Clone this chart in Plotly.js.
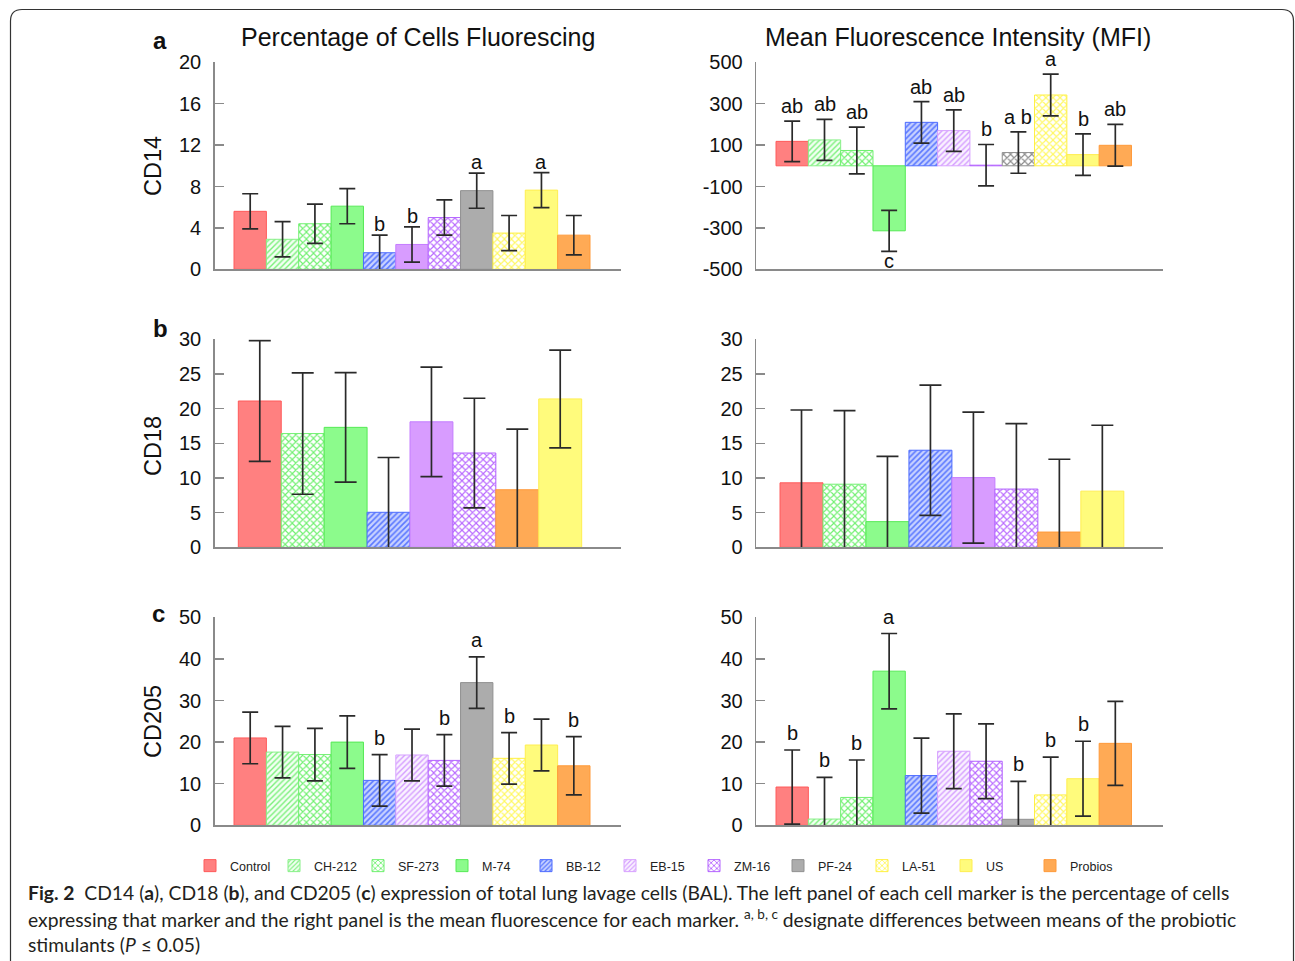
<!DOCTYPE html>
<html>
<head>
<meta charset="utf-8">
<script src="https://cdn.plot.ly/plotly-3.0.1.min.js"></script>
<style>html,body{margin:0;padding:0;background:#fff;}#chart{width:1295px;height:961px;}</style>
</head>
<body>
<div id="chart"></div>
<script>
// ---------------- DATA ----------------
const catsFull = ['Control','CH-212','SF-273','M-74','BB-12','EB-15','ZM-16','PF-24','LA-51','US','Probios'];
const catsCD18 = ['Control','SF-273','M-74','BB-12','EB-15','ZM-16','Probios','US'];

const cd14Pct    = [5.6, 2.9, 4.4, 6.1, 1.6, 2.4, 5.0, 7.6, 3.5, 7.65, 3.3];
const cd14PctErr = [1.7, 1.7, 1.9, 1.7, 1.7, 1.7, 1.7, 1.7, 1.7, 1.7, 1.9];
const cd14PctLbl = ['', '', '', '', 'b', 'b', '', 'a', '', 'a', ''];

const cd14Mfi    = [118, 125, 74, -314, 210, 170, 3, 64, 342, 54, 99];
const cd14MfiErr = [98, 99, 113, 99, 100, 100, 100, 100, 101, 100, 101];
const cd14MfiLbl = ['ab', 'ab', 'ab', 'c', 'ab', 'ab', 'b', 'a b', 'a', 'b', 'ab'];

const cd18Pct    = [21.1, 16.4, 17.3, 5.05, 18.1, 13.6, 8.3, 21.4];
const cd18PctErr = [8.7, 8.75, 7.9, 7.9, 7.9, 7.9, 8.75, 7.05];

const cd18Mfi    = [9.3, 9.1, 3.7, 14.0, 10.05, 8.4, 2.2, 8.1];
const cd18MfiErr = [10.5, 10.6, 9.4, 9.4, 9.45, 9.45, 10.5, 9.5];

const cd205Pct    = [21.0, 17.6, 17.0, 20.0, 10.8, 16.9, 15.6, 34.3, 16.1, 19.3, 14.3];
const cd205PctErr = [6.2, 6.2, 6.3, 6.3, 6.2, 6.2, 6.2, 6.2, 6.2, 6.2, 7.0];
const cd205PctLbl = ['', '', '', '', 'b', '', 'b', 'a', 'b', '', 'b'];

const cd205Mfi    = [9.2, 1.5, 6.7, 37.05, 11.95, 17.8, 15.4, 1.44, 7.3, 11.2, 19.7];
const cd205MfiErr = [8.9, 10.0, 9.0, 9.05, 9.0, 9.0, 9.0, 9.1, 9.1, 9.0, 10.1];
const cd205MfiLbl = ['b', 'b', 'b', 'a', '', '', '', 'b', 'b', 'b', ''];

const pctTicks14 = [0, 4, 8, 12, 16, 20];
const mfiTicks14 = [-500, -300, -100, 100, 300, 500];
const ticks18 = [0, 5, 10, 15, 20, 25, 30];
const ticks205 = [0, 10, 20, 30, 40, 50];

// ---------------- STYLES ----------------
const W = 1295, H = 961;
const fx = p => p / W;
const fy = p => 1 - p / H;
const FONT = 'Liberation Sans, Arial, Helvetica, sans-serif';
const CAPFONT = 'Lato, Roboto, sans-serif';

const styles = {
  'Control': {color:'#FF8080', line:'#FF5a5a', pattern:{shape:''}},
  'CH-212':  {color:'#C8FFC8', line:'#88F088', pattern:{shape:'/', fgcolor:'#7CF07C', bgcolor:'#F2FFF2', size:4, solidity:0.35, fillmode:'replace'}},
  'SF-273':  {color:'#B8FFB8', line:'#70F070', pattern:{shape:'x', fgcolor:'#70F070', bgcolor:'#FFFFFF', size:5, solidity:0.4, fillmode:'replace'}},
  'M-74':    {color:'#8CFB8C', line:'#55EA55', pattern:{shape:''}},
  'BB-12':   {color:'#98A8FF', line:'#4D6BFF', pattern:{shape:'/', fgcolor:'#5A78FF', bgcolor:'#C8D2FF', size:4, solidity:0.4, fillmode:'replace'}},
  'EB-15':   {color:'#E4C4FF', line:'#D7A2FF', pattern:{shape:'/', fgcolor:'#D49CFF', bgcolor:'#FAF2FF', size:4, solidity:0.35, fillmode:'replace'}},
  'ZM-16':   {color:'#D090FF', line:'#B464FF', pattern:{shape:'x', fgcolor:'#B868FF', bgcolor:'#FFFFFF', size:5, solidity:0.4, fillmode:'replace'}},
  'PF-24':   {color:'#ACACAC', line:'#909090', pattern:{shape:''}},
  'LA-51':   {color:'#FFFFB0', line:'#FFF040', pattern:{shape:'x', fgcolor:'#FFF860', bgcolor:'#FFFFFF', size:5, solidity:0.4, fillmode:'replace'}},
  'US':      {color:'#FFFB7C', line:'#FFEE50', pattern:{shape:''}},
  'Probios': {color:'#FFAA55', line:'#FF9a3a', pattern:{shape:''}}
};
const solidEB = {color:'#D89CFF', line:'#C47CFF', pattern:{shape:''}};
const checkPF = {color:'#C8C8C8', line:'#909090', pattern:{shape:'x', fgcolor:'#8c8c8c', bgcolor:'#FFFFFF', size:5, solidity:0.4, fillmode:'replace'}};

const traces = [];
const annotations = [];

function addPanel(cats, vals, errs, lbls, xa, ya, capW, overrides, showlegend, lblShift) {
  cats.forEach((c, i) => {
    const s = (overrides && overrides[c]) || styles[c];
    traces.push({
      type:'bar', x:[c], y:[vals[i]], width:1, name:c, legendgroup:c,
      showlegend: showlegend, xaxis:xa, yaxis:ya, hoverinfo:'skip',
      marker:{color:s.color, line:{color:s.line, width:1}, pattern:s.pattern},
      error_y:{type:'data', array:[errs[i]], visible:true, color:'#2a2a2a', thickness:1.7, width:capW}
    });
    if (lbls && lbls[i]) {
      const below = vals[i] < 0;
      annotations.push({
        xref:xa, yref:ya, x:c, y: below ? vals[i] - errs[i] : vals[i] + errs[i],
        yanchor: below ? 'top' : 'bottom', text:lbls[i], showarrow:false,
        font:{family:FONT, size:20, color:'#111'}, yshift: below ? 3 : lblShift
      });
    }
  });
}

addPanel(catsFull, cd205Pct, cd205PctErr, cd205PctLbl, 'x5', 'y5', 8, null, true, 4);
addPanel(catsFull, cd14Pct, cd14PctErr, cd14PctLbl, 'x', 'y', 8, {'EB-15':solidEB}, false, -2);
addPanel(catsFull, cd14Mfi, cd14MfiErr, cd14MfiLbl, 'x2', 'y2', 8, {'PF-24':checkPF}, false, 2);
addPanel(catsCD18, cd18Pct, cd18PctErr, null, 'x3', 'y3', 11, {'EB-15':solidEB}, false, 0);
addPanel(catsCD18, cd18Mfi, cd18MfiErr, null, 'x4', 'y4', 11, {'EB-15':solidEB}, false, 0);
addPanel(catsFull, cd205Mfi, cd205MfiErr, cd205MfiLbl, 'x6', 'y6', 8, null, false, 4);

const AXC = '#8a8a8a';
function xAxis(dom, anchor, cats, range) {
  return {domain:dom, anchor:anchor, type:'category', categoryorder:'array', categoryarray:cats,
    range:range, showline:true, linecolor:AXC, linewidth:1.3, showticklabels:false, ticks:'',
    showgrid:false, zeroline:false, fixedrange:true};
}
function yAxis(dom, anchor, range, ticks) {
  return {domain:dom, anchor:anchor, range:range, tickvals:ticks, ticktext:ticks.map(String),
    showline:true, linecolor:AXC, linewidth:1.3, ticks:'inside', ticklen:9, tickcolor:AXC, tickwidth:1.3,
    showgrid:false, zeroline:false, ticklabelstandoff:8,
    tickfont:{family:FONT, size:20, color:'#111'}, fixedrange:true};
}

const xL = [fx(214.5), fx(621)], xR = [fx(756), fx(1162.5)];
const yT = [fy(269.3), fy(62.3)], yM = [fy(547.3), fy(339.3)], yB = [fy(825.3), fy(617.3)];

const layout = {
  width:W, height:H, margin:{l:0, r:0, t:0, b:0}, paper_bgcolor:'#fff', plot_bgcolor:'rgba(0,0,0,0)',
  barmode:'overlay', bargap:0, showlegend:true,
  font:{family:FONT, color:'#111'},
  xaxis:  xAxis(xL, 'y',  catsFull, [-1.103, 11.458]),
  yaxis:  yAxis(yT, 'x',  [0, 20], pctTicks14),
  xaxis2: xAxis(xR, 'y2', catsFull, [-1.12, 11.46]),
  yaxis2: yAxis(yT, 'x2', [-500, 500], mfiTicks14),
  xaxis3: xAxis(xL, 'y3', catsCD18, [-1.055, 8.416]),
  yaxis3: yAxis(yM, 'x3', [0, 30], ticks18),
  xaxis4: xAxis(xR, 'y4', catsCD18, [-1.059, 8.4]),
  yaxis4: yAxis(yM, 'x4', [0, 30], ticks18),
  xaxis5: xAxis(xL, 'y5', catsFull, [-1.103, 11.458]),
  yaxis5: yAxis(yB, 'x5', [0, 50], ticks205),
  xaxis6: xAxis(xR, 'y6', catsFull, [-1.12, 11.46]),
  yaxis6: yAxis(yB, 'x6', [0, 50], ticks205),
  legend:{orientation:'h', x:fx(190), y:fy(851), xanchor:'left', yanchor:'top',
    entrywidth:39, entrywidthmode:'pixels', itemwidth:30, traceorder:'normal',
    font:{family:FONT, size:12.5, color:'#222'}, bgcolor:'rgba(0,0,0,0)', borderwidth:0,
    itemclick:false, itemdoubleclick:false},
  shapes:[{type:'path', xref:'paper', yref:'paper',
    path:`M ${fx(10.5)},${fy(961)} L ${fx(10.5)},${fy(21)} Q ${fx(10.5)},${fy(9.5)} ${fx(22)},${fy(9.5)} L ${fx(1282)},${fy(9.5)} Q ${fx(1293.5)},${fy(9.5)} ${fx(1293.5)},${fy(21)} L ${fx(1293.5)},${fy(961)}`,
    line:{color:'#333', width:1.2}}],
  annotations: annotations.concat([
    {xref:'paper', yref:'paper', x:fx(418), y:fy(37), xanchor:'center', yanchor:'middle', showarrow:false,
     text:'Percentage of Cells Fluorescing', font:{family:FONT, size:25, color:'#111'}},
    {xref:'paper', yref:'paper', x:fx(958), y:fy(37), xanchor:'center', yanchor:'middle', showarrow:false,
     text:'Mean Fluorescence Intensity (MFI)', font:{family:FONT, size:25, color:'#111'}},
    {xref:'paper', yref:'paper', x:fx(160), y:fy(41), xanchor:'center', yanchor:'middle', showarrow:false,
     text:'<b>a</b>', font:{family:FONT, size:24, color:'#111'}},
    {xref:'paper', yref:'paper', x:fx(160), y:fy(328), xanchor:'center', yanchor:'middle', showarrow:false,
     text:'<b>b</b>', font:{family:FONT, size:24, color:'#111'}},
    {xref:'paper', yref:'paper', x:fx(158), y:fy(613), xanchor:'center', yanchor:'middle', showarrow:false,
     text:'<b>c</b>', font:{family:FONT, size:24, color:'#111'}},
    {xref:'paper', yref:'paper', x:fx(153), y:fy(166), xanchor:'center', yanchor:'middle', showarrow:false,
     textangle:-90, text:'CD14', font:{family:FONT, size:23.5, color:'#111'}},
    {xref:'paper', yref:'paper', x:fx(153), y:fy(446), xanchor:'center', yanchor:'middle', showarrow:false,
     textangle:-90, text:'CD18', font:{family:FONT, size:23.5, color:'#111'}},
    {xref:'paper', yref:'paper', x:fx(153), y:fy(722), xanchor:'center', yanchor:'middle', showarrow:false,
     textangle:-90, text:'CD205', font:{family:FONT, size:23.5, color:'#111'}},
    {xref:'paper', yref:'paper', x:fx(26), y:fy(892.5), xanchor:'left', yanchor:'middle', showarrow:false, align:'left',
     text:'<b>Fig. 2</b>  CD14 (<b>a</b>), CD18 (<b>b</b>), and CD205 (<b>c</b>) expression of total lung lavage cells (BAL). The left panel of each cell marker is the percentage of cells',
     font:{family:CAPFONT, size:19.3, color:'#231f20'}},
    {xref:'paper', yref:'paper', x:fx(26), y:fy(918.5), xanchor:'left', yanchor:'middle', showarrow:false, align:'left',
     text:'expressing that marker and the right panel is the mean fluorescence for each marker. <sup>a, b, c</sup> designate differences between means of the probiotic',
     font:{family:CAPFONT, size:19.3, color:'#231f20'}},
    {xref:'paper', yref:'paper', x:fx(26), y:fy(944.5), xanchor:'left', yanchor:'middle', showarrow:false, align:'left',
     text:'stimulants (<i>P</i> ≤ 0.05)',
     font:{family:CAPFONT, size:19.3, color:'#231f20'}}
  ])
};

Plotly.newPlot('chart', traces, layout, {staticPlot:true, displayModeBar:false});
</script>
</body>
</html>
